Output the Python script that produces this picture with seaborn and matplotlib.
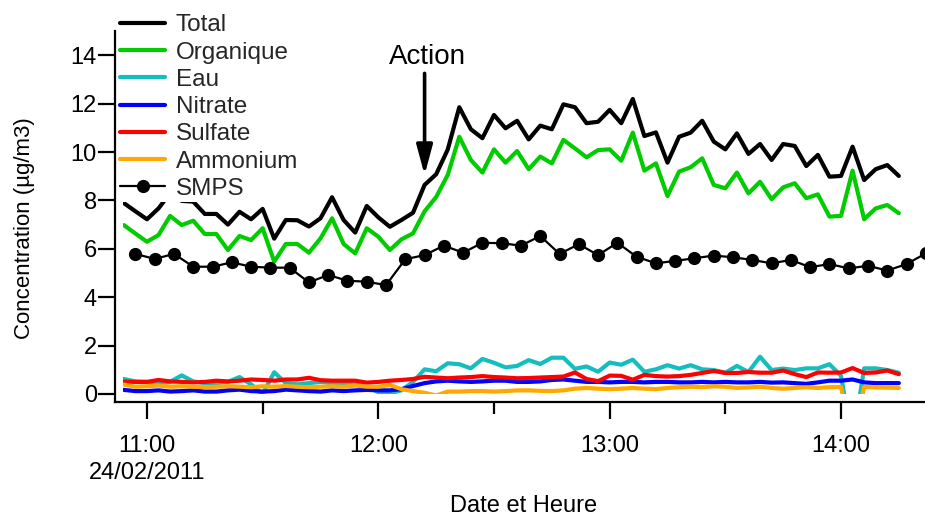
import matplotlib
matplotlib.use("Agg")
import numpy as np
import pandas as pd
import matplotlib.pyplot as plt
import matplotlib.dates as mdates
from matplotlib.ticker import FuncFormatter
import seaborn as sns

# Aerosol mass spectrometer: one sample every 3 minutes
ams_start = "2011-02-24 10:54"
total = [7.89, 7.55, 7.22, 7.67, 8.30, 7.98, 7.95, 7.44, 7.44, 7.00,
         7.53, 7.22, 7.65, 6.42, 7.19, 7.18, 6.92, 7.26, 8.13, 7.19,
         6.67, 7.77, 7.30, 6.91, 7.19, 7.49, 8.64, 9.08, 10.10, 11.85,
         10.94, 10.57, 11.53, 10.98, 11.29, 10.52, 11.09, 10.94, 11.97, 11.85,
         11.19, 11.25, 11.74, 11.19, 12.19, 10.66, 10.81, 9.56, 10.63, 10.80,
         11.29, 10.43, 10.11, 10.77, 9.92, 10.33, 9.67, 10.33, 10.25, 9.42,
         9.88, 8.98, 9.01, 10.22, 8.84, 9.29, 9.46, 9.01]
organique = [6.98, 6.63, 6.29, 6.57, 7.36, 6.98, 7.16, 6.61, 6.61, 5.95,
             6.53, 6.36, 6.85, 5.47, 6.20, 6.20, 5.84, 6.43, 7.26, 6.20,
             5.81, 6.85, 6.50, 5.95, 6.39, 6.64, 7.55, 8.14, 9.05, 10.63,
             9.67, 9.15, 10.11, 9.56, 10.04, 9.29, 9.81, 9.53, 10.50, 10.15,
             9.78, 10.08, 10.11, 9.64, 10.80, 9.23, 9.53, 8.18, 9.19, 9.37,
             9.74, 8.64, 8.50, 9.15, 8.29, 8.77, 8.05, 8.54, 8.71, 8.09,
             8.25, 7.33, 7.36, 9.23, 7.22, 7.67, 7.81, 7.47]
eau = [0.62, 0.52, 0.50, 0.45, 0.50, 0.77, 0.52, 0.45, 0.45, 0.50,
       0.70, 0.40, 0.00, 0.90, 0.45, 0.40, 0.45, 0.50, 0.45, 0.42,
       0.40, 0.30, 0.08, 0.03, 0.15, 0.50, 1.02, 0.94, 1.27, 1.23,
       1.06, 1.45, 1.29, 1.10, 1.16, 1.40, 1.24, 1.50, 1.50, 1.04,
       1.14, 0.92, 1.30, 1.21, 1.42, 0.92, 1.02, 1.19, 1.05, 1.19,
       1.02, 0.99, 0.88, 1.16, 0.91, 1.54, 0.99, 1.05, 0.99, 1.06,
       1.06, 1.23, 0.75, -2.00, 1.06, 1.06, 0.99, 0.88]
nitrate = [0.17, 0.12, 0.12, 0.15, 0.10, 0.12, 0.15, 0.10, 0.10, 0.15,
           0.18, 0.12, 0.10, 0.12, 0.18, 0.15, 0.12, 0.10, 0.15, 0.12,
           0.15, 0.17, 0.15, 0.15, 0.20, 0.33, 0.45, 0.52, 0.55, 0.52,
           0.50, 0.52, 0.55, 0.55, 0.50, 0.50, 0.52, 0.58, 0.60, 0.55,
           0.50, 0.50, 0.48, 0.50, 0.50, 0.48, 0.50, 0.50, 0.48, 0.48,
           0.50, 0.48, 0.50, 0.48, 0.48, 0.50, 0.47, 0.48, 0.45, 0.42,
           0.48, 0.55, 0.55, 0.60, 0.48, 0.45, 0.45, 0.45]
sulfate = [0.51, 0.50, 0.50, 0.58, 0.52, 0.50, 0.48, 0.50, 0.55, 0.52,
           0.55, 0.60, 0.58, 0.55, 0.60, 0.60, 0.67, 0.57, 0.55, 0.55,
           0.55, 0.47, 0.50, 0.55, 0.58, 0.62, 0.71, 0.68, 0.65, 0.68,
           0.70, 0.74, 0.70, 0.68, 0.65, 0.66, 0.68, 0.70, 0.72, 0.89,
           0.62, 0.53, 0.76, 0.75, 0.59, 0.79, 0.74, 0.72, 0.74, 0.79,
           0.87, 0.95, 0.87, 0.87, 0.91, 0.88, 0.88, 0.97, 0.82, 0.70,
           0.89, 0.88, 0.89, 1.07, 0.87, 0.89, 0.97, 0.82]
ammonium = [0.39, 0.30, 0.32, 0.35, 0.30, 0.32, 0.30, 0.28, 0.30, 0.32,
            0.30, 0.28, 0.32, 0.30, 0.33, 0.30, 0.28, 0.30, 0.32, 0.30,
            0.35, 0.30, 0.30, 0.37, 0.20, 0.12, 0.05, -0.06, 0.10, 0.10,
            0.12, 0.12, 0.10, 0.12, 0.15, 0.15, 0.13, 0.12, 0.15, 0.22,
            0.25, 0.22, 0.20, 0.22, 0.25, 0.22, 0.20, 0.25, 0.28, 0.30,
            0.28, 0.32, 0.30, 0.25, 0.27, 0.30, 0.25, 0.22, 0.25, 0.28,
            0.25, 0.28, 0.29, -2.00, 0.29, 0.27, 0.26, 0.25]

# Particle sizer: one sample every 5 minutes
smps_start = "2011-02-24 10:57"
smps = [5.79, 5.58, 5.79, 5.26, 5.26, 5.44, 5.26, 5.22, 5.22, 4.61,
        4.92, 4.68, 4.64, 4.50, 5.57, 5.74, 6.13, 5.84, 6.25, 6.23,
        6.13, 6.53, 5.79, 6.19, 5.74, 6.25, 5.67, 5.40, 5.50, 5.61,
        5.72, 5.65, 5.54, 5.40, 5.54, 5.24, 5.37, 5.19, 5.30, 5.10,
        5.37, 5.81]

series = {"Total": total, "Organique": organique, "Eau": eau,
          "Nitrate": nitrate, "Sulfate": sulfate, "Ammonium": ammonium}
colors = {"Total": "#000000", "Organique": "#00CC00", "Eau": "#14BEBE",
          "Nitrate": "#0000FF", "Sulfate": "#FF0000", "Ammonium": "#FFA800"}

action_time = pd.Timestamp("2011-02-24 12:12")
action_label = "Action"

t_ams = pd.date_range(ams_start, periods=len(total), freq="3min")
t_smps = pd.date_range(smps_start, periods=len(smps), freq="5min")

sns.set_theme(style="ticks")
plt.rcParams["font.family"] = ["Liberation Sans", "DejaVu Sans"]

W, H = 925, 515
fig = plt.figure(figsize=(W / 100, H / 100), dpi=100)
x0, x1, ytop, ybot = 123, 925, 31, 394
ax = fig.add_axes([x0 / W, (H - ybot) / H, (x1 - x0) / W, (ybot - ytop) / H])

for name, vals in series.items():
    sns.lineplot(x=t_ams, y=vals, ax=ax, color=colors[name], lw=3.0,
                 label=name, legend=False)
sns.lineplot(x=t_smps, y=smps, ax=ax, color="black", lw=1.6, marker="o",
             markersize=9.5, markeredgewidth=0, label="SMPS", legend=False)

xmin = pd.Timestamp("2011-02-24 10:53:47")
xmax = pd.Timestamp("2011-02-24 14:21:47")
ax.set_xlim(xmin, xmax)
ax.set_ylim(0, 15)

# detached axes, joined at the corner
off_px = 8
for side in ("left", "bottom"):
    ax.spines[side].set_position(("outward", off_px * 0.72))
    ax.spines[side].set_linewidth(1.6)
    ax.spines[side].set_color("black")
ax.spines["top"].set_visible(False)
ax.spines["right"].set_visible(False)
px_per_unit = (ybot - ytop) / 15.0
ax.spines["left"].set_bounds(-off_px / px_per_unit, 15)
min_per_px = (xmax - xmin).total_seconds() / 60 / (x1 - x0)
ax.spines["bottom"].set_bounds(mdates.date2num(xmin - pd.Timedelta(minutes=off_px * min_per_px)),
                               mdates.date2num(xmax))

ax.set_yticks(np.arange(0, 15, 2))
ax.xaxis.set_major_locator(mdates.HourLocator())
ax.xaxis.set_minor_locator(mdates.MinuteLocator(byminute=[30]))


def hour_label(v, pos):
    d = mdates.num2date(v)
    s = d.strftime("%H:%M")
    if d.hour == 11:
        s += "\n" + d.strftime("%d/%m/%Y")
    return s


ax.xaxis.set_major_formatter(FuncFormatter(hour_label))
ax.tick_params(axis="both", which="major", direction="out", length=12,
               width=1.6, color="black", labelsize=17, labelcolor="black")
ax.tick_params(axis="x", which="minor", direction="out", length=8.5,
               width=1.6, color="black")
ax.tick_params(axis="x", which="major", pad=12)
ax.tick_params(axis="y", which="major", pad=1)
for lbl in ax.get_xticklabels():
    lbl.set_linespacing(1.25)

ax.set_xlabel("Date et Heure", fontsize=17, color="black", labelpad=8)
ax.set_ylabel("Concentration (µg/m3)", fontsize=16, color="black")
ax.yaxis.set_label_coords((35 - x0) / (x1 - x0), (ybot - 228) / (ybot - ytop))
ax.grid(False)

ax.annotate("", xy=(action_time, 9.05), xytext=(action_time, 13.25),
            arrowprops=dict(arrowstyle="-|>,head_length=1.0,head_width=0.27",
                            mutation_scale=18, lw=2.6, color="black",
                            shrinkA=0, shrinkB=0))
ax.text(action_time + pd.Timedelta(minutes=0.8), 13.93, action_label,
        ha="center", va="center", fontsize=20, color="black")

handles, labels = ax.get_legend_handles_labels()
leg = ax.legend(handles, labels, loc="upper left",
                bbox_to_anchor=(118 / W, 1 - 12 / H), bbox_transform=fig.transFigure,
                fontsize=17.5, frameon=True, facecolor="white", edgecolor="none",
                framealpha=1.0, fancybox=False, borderpad=0.1, borderaxespad=0,
                handlelength=1.85, handletextpad=0.42, labelspacing=0.215)
leg.set_zorder(10)

fig.savefig("out.png", dpi=100, facecolor="white")
